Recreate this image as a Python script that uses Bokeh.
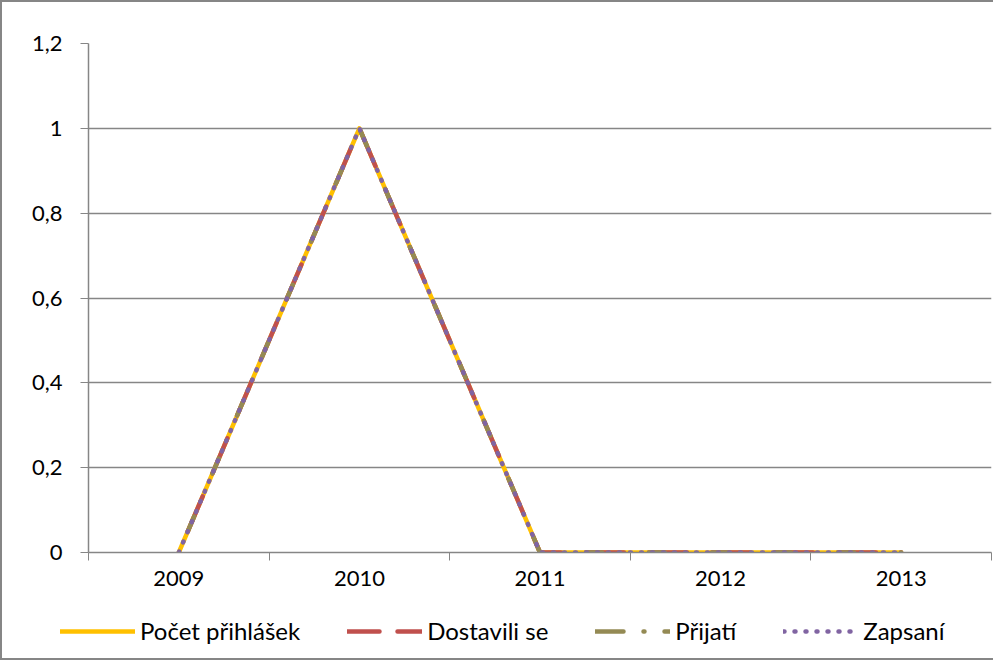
from bokeh.plotting import figure
from bokeh.layouts import column
from bokeh.models import Range1d, FixedTicker, Legend, LegendItem
from bokeh.embed import file_html
from bokeh.resources import INLINE

years = ["2009", "2010", "2011", "2012", "2013"]
pocet_prihlasek = [0, 1, 0, 0, 0]
dostavili_se = [0, 1, 0, 0, 0]
prijati = [0, 1, 0, 0, 0]
zapsani = [0, 1, 0, 0, 0]
y_ticks = [0, 0.2, 0.4, 0.6, 0.8, 1.0, 1.2]
y_labels = ["0", "0,2", "0,4", "0,6", "0,8", "1", "1,2"]

FONT = "Lato"
GREY = "#868686"
BORDER = "2px solid #868686"

p = figure(width=993, height=610, output_backend="svg", toolbar_location=None,
           x_range=Range1d(0, len(years)), y_range=Range1d(0, 1.2),
           min_border_left=86, min_border_right=4, min_border_top=41, min_border_bottom=60)
p.frame_align = False
p.outline_line_color = None
p.styles = {"border-left": BORDER, "border-top": BORDER, "box-sizing": "border-box"}

xs = [i + 0.5 for i in range(len(years))]

# (label, values, colour, dash in chart, dash offset in chart, dash in legend)
series = [
    ("Počet přihlášek", pocet_prihlasek, "#FFC000", "solid", 0, "solid"),
    ("Dostavili se", dostavili_se, "#C0504D", "38 25", 40, "32 18"),
    ("Přijatí", prijati, "#948A54", "16 47", 40, "28 20 1 20"),
    ("Zapsaní", zapsani, "#8064A2", "1 10", 0, "1 10"),
]
style = dict(line_width=4.5, line_cap="round", line_join="round")
for name, vals, color, dash, off, _ in series:
    p.line(xs, vals, line_color=color, line_dash=dash, line_dash_offset=off, **style)

# x axis
p.xaxis.ticker = FixedTicker(ticks=xs, minor_ticks=list(range(len(years) + 1)))
p.xaxis.major_label_overrides = {x: y for x, y in zip(xs, years)}
p.xaxis.major_tick_line_color = None
p.xaxis.minor_tick_line_color = GREY
p.xaxis.minor_tick_out = 8
p.xaxis.minor_tick_in = 0
p.xaxis.axis_line_color = GREY
p.xaxis.axis_line_width = 1.5
p.xaxis.major_label_standoff = 10
p.xgrid.grid_line_color = None

# y axis
p.yaxis.ticker = FixedTicker(ticks=y_ticks, minor_ticks=[])
p.yaxis.major_label_overrides = {t: l for t, l in zip(y_ticks, y_labels)}
p.yaxis.major_tick_line_color = GREY
p.yaxis.major_tick_out = 8
p.yaxis.major_tick_in = 0
p.yaxis.axis_line_color = GREY
p.yaxis.axis_line_width = 1.5
p.yaxis.major_label_standoff = 18
p.ygrid.ticker = FixedTicker(ticks=y_ticks)
p.ygrid.grid_line_color = GREY
p.ygrid.grid_line_width = 1.5

for ax in (p.xaxis[0], p.yaxis[0]):
    ax.major_label_text_font = FONT
    ax.major_label_text_font_size = "22px"
    ax.major_label_text_color = "black"

# legend strip (series drawn off-range so only the legend shows)
pl = figure(width=993, height=50, output_backend="svg", toolbar_location=None,
            x_axis_type=None, y_axis_type=None, x_range=Range1d(0, len(years)),
            y_range=Range1d(10, 11),
            min_border_left=0, min_border_right=0, min_border_top=0, min_border_bottom=0)
pl.frame_align = False
pl.outline_line_color = None
pl.styles = {"border-left": BORDER, "border-bottom": BORDER, "box-sizing": "border-box"}
items = []
for name, vals, color, _, _, ldash in series:
    r = pl.line(xs, vals, line_color=color, line_dash=ldash, **style)
    items.append(LegendItem(label=name, renderers=[r]))

legend = Legend(items=items, orientation="horizontal", location=(58, 15),
                glyph_width=75, glyph_height=20, label_standoff=5, spacing=47,
                padding=5, margin=0, border_line_color=None, background_fill_alpha=0,
                label_text_font=FONT, label_text_font_size="24px", label_text_color="black",
                label_height=24)
pl.add_layout(legend, "center")

layout = column(p, pl, spacing=0)
open("out.html", "w").write(file_html(layout, INLINE))
